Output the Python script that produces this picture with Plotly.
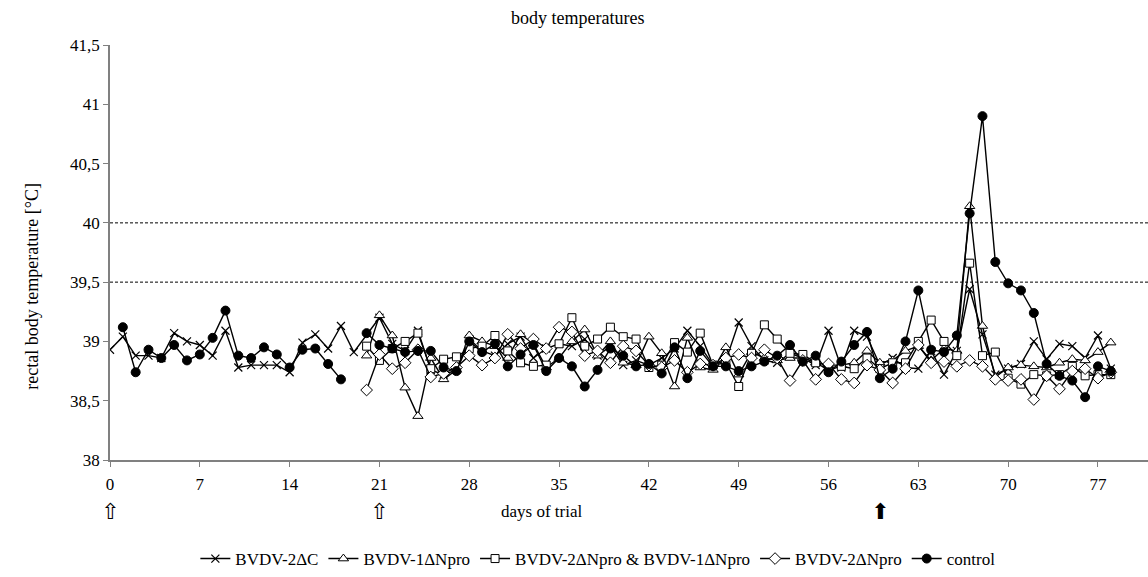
import plotly.graph_objects as go

days = list(range(0, 79))

bvdv2_dc = [38.93, 39.04, 38.88, 38.88, 38.86, 39.07, 39.0, 38.97, 38.88, 39.09,
            38.78, 38.8, 38.8, 38.8, 38.74, 38.99, 39.06, 38.94, 39.13, 38.91,
            None, 39.2, 38.98, 38.92, 39.09, 38.76, 38.72, 38.76, 39.02, 38.92,
            38.88, 38.98, 39.04, 38.86, 38.94, 38.98, 38.96, 39.02, 38.88, 38.96,
            38.8, 38.84, 38.8, 38.86, 38.94, 39.09, 38.96, 38.8, 38.84, 39.16,
            38.96, 38.84, 38.82, 38.9, 38.86, 38.8, 39.09, 38.78, 39.09, 39.04,
            38.8, 38.86, 38.78, 38.77, 38.92, 38.72, 38.92, 39.44, 39.06, 38.72,
            38.77, 38.81, 39.0, 38.85, 38.98, 38.96, 38.86, 39.05, 38.77]

bvdv1_dnpro = [None] * 20 + [
            38.88, 39.22, 39.05, 38.61, 38.37, 38.86, 38.68, 38.76, 39.05, 39.0,
            38.96, 38.86, 39.06, 38.98, 38.78, 38.86, 39.0, 39.1, 38.88, 39.0,
            38.82, 38.8, 39.04, 38.9, 38.62, 39.03, 38.78, 38.76, 38.95, 38.72,
            38.91, 38.86, 38.84, 38.86, 38.86, 38.82, 38.8, 38.8, 38.82, 38.92,
            38.82, 38.84, 38.92, 38.96, 38.84, 38.94, 38.92, 40.14, 39.13, 38.7,
            38.78, 38.8, 38.79, 38.78, 38.82, 38.85, 38.84, 38.91, 38.99]

combo_dnpro = [None] * 20 + [
            38.96, 38.84, 38.94, 39.0, 39.07, 38.77, 38.85, 38.87, 38.94, 38.96,
            39.05, 38.92, 38.82, 38.79, 38.8, 38.98, 39.2, 38.96, 39.02, 39.12,
            39.04, 39.02, 38.78, 38.8, 38.99, 38.91, 39.07, 38.8, 38.82, 38.62,
            38.9, 39.14, 39.02, 38.9, 38.89, 38.82, 38.76, 38.79, 38.77, 38.86,
            38.77, 38.82, 38.82, 39.0, 39.18, 39.0, 38.88, 39.66, 38.88, 38.91,
            38.69, 38.64, 38.72, 38.71, 38.72, 38.79, 38.71, 38.72, 38.72]

bvdv2_dnpro = [None] * 20 + [
            38.59, 38.89, 38.77, 38.82, 38.93, 38.7, 38.73, 38.78, 38.88, 38.8,
            38.86, 39.06, 38.94, 39.02, 38.94, 39.12, 39.08, 38.88, 38.92, 38.82,
            38.96, 38.92, 38.8, 38.78, 38.84, 38.74, 38.81, 38.8, 38.86, 38.89,
            38.86, 38.93, 38.86, 38.67, 38.84, 38.68, 38.81, 38.68, 38.65, 38.8,
            38.76, 38.65, 38.77, 38.97, 38.82, 38.83, 38.79, 38.84, 38.79, 38.68,
            38.67, 38.68, 38.51, 38.71, 38.6, 38.75, 38.77, 38.69, 38.74]

control = [None, 39.12, 38.74, 38.93, 38.86, 38.97, 38.84, 38.89, 39.03, 39.26,
           38.88, 38.86, 38.95, 38.89, 38.78, 38.93, 38.94, 38.81, 38.68, None,
           39.07, 38.97, 38.94, 38.91, 38.92, 38.92, 38.78, 38.75, 39.0, 38.91,
           38.98, 38.79, 38.89, 38.97, 38.75, 38.86, 38.79, 38.62, 38.76, 38.94,
           38.88, 38.79, 38.81, 38.73, 38.95, 38.69, 38.92, 38.79, 38.79, 38.75,
           38.79, 38.83, 38.88, 38.97, 38.83, 38.88, 38.74, 38.83, 38.97, 39.08,
           38.69, 38.77, 39.0, 39.43, 38.93, 38.91, 39.05, 40.08, 40.9, 39.67,
           39.49, 39.43, 39.24, 38.81, 38.71, 38.67, 38.53, 38.79, 38.75]

y_ticks = [38, 38.5, 39, 39.5, 40, 40.5, 41, 41.5]
y_tick_text = ["38", "38,5", "39", "39,5", "40", "40,5", "41", "41,5"]
x_ticks = list(range(0, 78, 7))
ref_lines = [39.5, 40]
white_arrow_days = [0, 21]
black_arrow_days = [60]

FONT = "Liberation Serif, Times New Roman, serif"

series = [
    ("BVDV-2\u0394C", bvdv2_dc, dict(symbol="x-thin", size=8, color="black",
                                     line=dict(color="black", width=1.2)), True),
    ("BVDV-1\u0394Npro", bvdv1_dnpro, dict(symbol="triangle-up", size=9, color="white",
                                           line=dict(color="black", width=1)), False),
    ("BVDV-2\u0394Npro & BVDV-1\u0394Npro", combo_dnpro, dict(symbol="square", size=8, color="white",
                                                              line=dict(color="black", width=1)), False),
    ("BVDV-2\u0394Npro", bvdv2_dnpro, dict(symbol="diamond", size=9, color="white",
                                           line=dict(color="black", width=1)), False),
    ("control", control, dict(symbol="circle", size=9, color="black",
                              line=dict(color="black", width=1)), False),
]

fig = go.Figure()
for name, vals, marker, cg in series:
    fig.add_trace(go.Scatter(
        x=days, y=vals, name=name, mode="lines+markers",
        line=dict(color="black", width=1.4),
        marker=marker, connectgaps=cg,
    ))

for yv in ref_lines:
    fig.add_shape(type="line", xref="paper", x0=0, x1=1, yref="y", y0=yv, y1=yv,
                  line=dict(color="black", width=1, dash="3px,2px"), layer="below")

annotations = []
for d in white_arrow_days:
    annotations.append(dict(x=d, xref="x", y=-0.125, yref="paper", text="\u21e7",
                            xanchor="center", yanchor="middle",
                            showarrow=False, font=dict(family="DejaVu Sans", size=22, color="black")))
for d in black_arrow_days:
    annotations.append(dict(x=d, xref="x", y=-0.125, yref="paper", text="\u2b06",
                            xanchor="center", yanchor="middle",
                            showarrow=False, font=dict(family="DejaVu Sans", size=22, color="black")))
annotations.append(dict(x=0.416, xref="paper", y=-0.125, yref="paper", text="days of trial",
                        xanchor="center", yanchor="middle",
                        showarrow=False, font=dict(family=FONT, size=17, color="black")))
annotations.append(dict(x=-0.076, xref="paper", y=0.418, yref="paper",
                        text="rectal body temperature [\u00b0C]", textangle=-90,
                        xanchor="center", yanchor="middle",
                        showarrow=False, font=dict(family=FONT, size=18, color="black")))
annotations.append(dict(x=0.45, xref="paper", y=1.065, yref="paper", text="body temperatures",
                        xanchor="center", yanchor="middle",
                        showarrow=False, font=dict(family=FONT, size=18, color="black")))

fig.update_layout(
    width=1148, height=577,
    margin=dict(l=110, r=0, t=45, b=116),
    plot_bgcolor="white", paper_bgcolor="white",
    font=dict(family=FONT, size=17, color="black"),
    showlegend=True,
    legend=dict(orientation="h", x=0.47, xanchor="center", y=-0.238, yanchor="middle",
                font=dict(family=FONT, size=17, color="black"), itemwidth=30),
    annotations=annotations,
    xaxis=dict(range=[0, 80.9], tickvals=x_ticks, showgrid=False, zeroline=False,
               showline=True, linecolor="#808080", linewidth=1.5,
               ticks="outside", ticklen=5, tickcolor="#808080", ticklabelstandoff=3,
               tickfont=dict(family=FONT, size=17, color="black")),
    yaxis=dict(range=[38, 41.5], tickvals=y_ticks, ticktext=y_tick_text, showgrid=False,
               zeroline=False, showline=True, linecolor="#808080", linewidth=1.5,
               ticks="outside", ticklen=5, tickcolor="#808080",
               tickfont=dict(family=FONT, size=17, color="black")),
)

fig.write_html("out.html")
